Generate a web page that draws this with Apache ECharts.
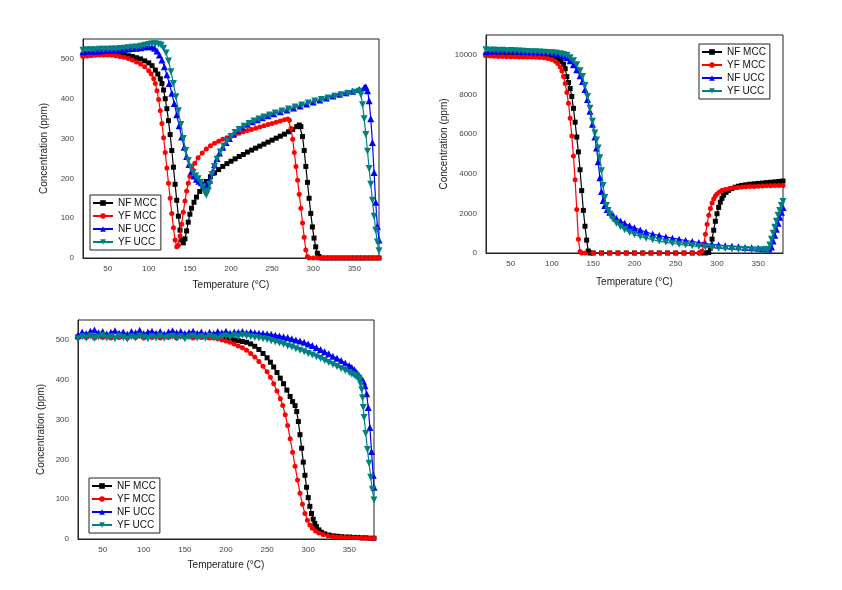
<!DOCTYPE html>
<html>
<head>
<meta charset="utf-8">
<script src="https://cdn.jsdelivr.net/npm/echarts@6/dist/echarts.min.js"></script>
<style>
html,body{margin:0;padding:0;background:#fff;}
#chart{width:842px;height:590px;}
</style>
</head>
<body>
<div id="chart"></div>
<script>
// ---------- data ----------
const seriesNames = ['NF MCC', 'YF MCC', 'NF UCC', 'YF UCC'];
const xTickLabels = [50, 100, 150, 200, 250, 300, 350];
const yTickLabelsA = [0, 100, 200, 300, 400, 500];
const yTickLabelsB = [0, 2000, 4000, 6000, 8000, 10000];

// Panel 1 (top-left)
const p1NfMcc = [[20,510],[25,511],[30,512],[35,512],[40,513],[45,513],[50,513],[55,513],[60,512],[65,511],[70,510],[75,508],[80,506],[85,503],[90,500],[95,495],[100,490],[104,483],[108,472],[111,462],[114,450],[116,438],[118,422],[120,400],[122,375],[124,345],[126,310],[128,270],[130,228],[132,185],[134,145],[136,105],[138,70],[140,45],[142,38],[144,48],[146,68],[148,90],[150,110],[152,125],[155,140],[158,153],[162,167],[166,180],[170,192],[175,204],[180,214],[185,222],[190,230],[195,237],[200,243],[205,249],[210,255],[215,260],[220,266],[225,271],[230,276],[235,281],[240,286],[245,291],[250,296],[255,301],[260,306],[265,311],[270,317],[275,323],[280,330],[283,334],[285,330],[287,305],[289,270],[291,230],[293,190],[295,150],[297,112],[299,78],[301,50],[303,28],[305,12],[307,4],[310,0],[315,0],[320,0],[325,0],[330,0],[335,0],[340,0],[345,0],[350,0],[355,0],[360,0],[365,0],[370,0],[375,0],[380,0]];
const p1YfMcc = [[20,506],[25,507],[30,508],[35,509],[40,510],[45,510],[50,510],[55,509],[60,508],[65,506],[70,504],[75,501],[80,497],[85,492],[90,487],[95,480],[100,470],[103,462],[106,450],[108,438],[110,420],[112,398],[114,370],[116,338],[118,302],[120,265],[122,226],[124,188],[126,150],[128,112],[130,76],[132,45],[134,28],[136,32],[138,55],[140,85],[142,115],[144,143],[146,168],[148,188],[150,205],[153,223],[156,238],[160,252],[165,264],[170,274],[175,282],[180,288],[185,293],[190,298],[195,302],[200,306],[205,310],[210,313],[215,317],[220,320],[225,323],[230,326],[235,329],[240,332],[245,335],[250,338],[255,341],[260,344],[265,347],[269,349],[271,346],[273,325],[275,298],[277,265],[279,230],[281,195],[283,160],[285,125],[287,88],[289,52],[291,20],[293,4],[295,0],[300,0],[305,0],[310,0],[315,0],[320,0],[325,0],[330,0],[335,0],[340,0],[345,0],[350,0],[355,0],[360,0],[365,0],[370,0],[375,0],[380,0]];
const p1NfUcc = [[20,518],[25,519],[30,519],[35,520],[40,520],[45,521],[50,521],[55,522],[60,522],[65,523],[70,524],[75,525],[80,526],[85,527],[90,528],[95,530],[100,531],[104,530],[107,527],[110,520],[113,510],[116,497],[119,480],[122,460],[125,438],[128,414],[131,388],[134,360],[137,332],[140,304],[143,278],[146,255],[149,235],[152,218],[155,206],[158,198],[161,193],[164,189],[167,185],[170,180],[172,182],[174,195],[177,215],[180,234],[183,250],[186,264],[190,278],[194,290],[198,300],[203,311],[208,320],[214,329],[220,336],[226,342],[232,347],[238,352],[245,357],[252,362],[260,367],[268,372],[276,377],[284,382],[292,387],[300,392],[308,397],[316,402],[324,407],[332,411],[340,415],[348,419],[356,423],[362,428],[364,430],[366,420],[368,395],[370,350],[372,290],[374,215],[376,140],[378,80],[380,45]];
const p1YfUcc = [[20,522],[25,523],[30,523],[35,523],[40,524],[45,524],[50,524],[55,525],[60,525],[65,526],[70,527],[75,528],[80,529],[85,530],[90,532],[95,534],[100,536],[104,538],[108,538],[112,537],[115,534],[118,527],[121,515],[124,495],[127,468],[130,438],[133,405],[136,370],[139,335],[142,300],[145,270],[148,245],[151,228],[154,215],[157,206],[160,199],[163,190],[166,178],[168,165],[170,158],[172,168],[174,185],[177,210],[180,230],[183,248],[187,266],[191,281],[195,293],[200,305],[205,315],[210,323],[216,331],[222,338],[228,344],[234,349],[240,354],[247,359],[254,364],[262,369],[270,374],[278,379],[286,384],[294,389],[302,394],[310,398],[318,402],[326,406],[334,410],[342,413],[350,416],[356,419],[358,410],[360,385],[362,350],[364,310],[366,268],[368,225],[370,185],[372,145],[374,105],[376,70],[378,40],[380,18]];

// Panel 2 (top-right)
const p2NfMcc = [[20,10000],[25,9990],[30,9980],[35,9975],[40,9970],[45,9965],[50,9960],[55,9960],[60,9955],[65,9955],[70,9950],[75,9950],[80,9945],[85,9940],[90,9935],[95,9920],[100,9880],[104,9830],[108,9760],[111,9660],[114,9520],[116,9300],[118,8900],[120,8600],[122,8300],[124,7900],[126,7300],[128,6600],[130,5850],[132,5100],[134,4200],[136,3150],[138,2150],[140,1350],[142,650],[144,100],[146,0],[150,0],[160,0],[170,0],[180,0],[190,0],[200,0],[210,0],[220,0],[230,0],[240,0],[250,0],[260,0],[270,0],[280,0],[286,0],[290,30],[292,250],[294,700],[296,1150],[298,1600],[300,1980],[302,2300],[304,2560],[306,2760],[308,2920],[311,3060],[314,3160],[318,3250],[322,3320],[326,3370],[330,3410],[335,3440],[340,3470],[345,3490],[350,3510],[355,3530],[360,3550],[365,3570],[370,3590],[375,3610],[380,3630]];
const p2YfMcc = [[20,9950],[25,9940],[30,9930],[35,9920],[40,9910],[45,9905],[50,9900],[55,9900],[60,9895],[65,9895],[70,9890],[75,9890],[80,9880],[85,9870],[90,9850],[95,9820],[100,9760],[104,9680],[107,9560],[110,9380],[112,9180],[114,8900],[116,8550],[118,8100],[120,7550],[122,6800],[124,5900],[126,4900],[128,3700],[130,2200],[132,700],[134,80],[136,0],[140,0],[150,0],[160,0],[170,0],[180,0],[190,0],[200,0],[210,0],[220,0],[230,0],[240,0],[250,0],[260,0],[270,0],[278,0],[280,20],[282,100],[284,450],[286,950],[288,1450],[290,1900],[292,2250],[294,2520],[296,2720],[298,2870],[300,2980],[303,3080],[306,3150],[310,3210],[315,3260],[320,3290],[325,3310],[330,3330],[335,3340],[340,3350],[345,3360],[350,3370],[355,3380],[360,3390],[365,3395],[370,3400],[375,3405],[380,3410]];
const p2NfUcc = [[20,10150],[25,10180],[30,10200],[35,10190],[40,10210],[45,10200],[50,10220],[55,10200],[60,10190],[65,10180],[70,10170],[75,10160],[80,10150],[85,10140],[90,10130],[95,10120],[100,10100],[105,10070],[110,10020],[114,9950],[118,9850],[122,9700],[126,9500],[130,9250],[134,8950],[137,8650],[140,8250],[143,7750],[146,7150],[149,6500],[152,5850],[154,5300],[156,4600],[158,3800],[160,3100],[162,2650],[164,2400],[167,2200],[170,2050],[174,1900],[178,1750],[183,1620],[188,1500],[194,1380],[200,1270],[207,1160],[214,1060],[222,960],[230,880],[238,810],[246,750],[254,690],[262,630],[270,580],[278,530],[286,480],[294,440],[302,400],[310,370],[318,340],[326,310],[334,280],[342,260],[350,240],[356,220],[360,210],[363,200],[366,300],[368,600],[370,900],[372,1200],[374,1500],[376,1800],[378,2050],[380,2300]];
const p2YfUcc = [[20,10250],[25,10230],[30,10240],[35,10220],[40,10230],[45,10210],[50,10220],[55,10200],[60,10190],[65,10180],[70,10170],[75,10160],[80,10150],[85,10140],[90,10130],[95,10120],[100,10110],[105,10090],[110,10060],[114,10020],[118,9960],[122,9850],[126,9700],[130,9500],[134,9200],[137,8900],[140,8450],[143,7900],[146,7300],[149,6650],[152,6050],[154,5700],[156,5300],[158,4800],[160,4150],[162,3400],[164,2800],[166,2400],[168,2150],[170,1950],[174,1700],[178,1500],[183,1320],[188,1170],[194,1040],[200,930],[207,830],[214,750],[222,670],[230,600],[238,540],[246,490],[254,440],[262,400],[270,360],[278,330],[286,300],[294,270],[302,245],[310,225],[318,205],[326,190],[334,175],[342,165],[350,155],[356,150],[360,150],[362,170],[364,400],[366,700],[368,1000],[370,1300],[372,1600],[374,1900],[376,2150],[378,2400],[380,2600]];

// Panel 3 (bottom-left)
const p3NfMcc = [[20,508],[30,509],[40,508],[50,509],[60,508],[70,509],[80,508],[90,509],[100,508],[110,509],[120,508],[130,509],[140,508],[150,509],[160,508],[170,508],[180,507],[190,506],[200,504],[205,502],[210,500],[215,498],[220,496],[225,494],[230,490],[235,484],[240,476],[245,466],[250,455],[254,444],[258,432],[262,418],[266,404],[270,390],[274,374],[278,358],[281,345],[284,335],[286,320],[288,295],[290,262],[292,228],[294,193],[296,160],[298,130],[300,104],[302,82],[304,64],[306,50],[308,39],[310,31],[313,23],[316,17],[320,13],[325,10],[330,8],[335,7],[340,6],[345,5],[350,5],[355,4],[360,4],[365,3],[370,3],[375,2],[380,2]];
const p3YfMcc = [[20,505],[30,506],[40,505],[50,506],[60,505],[70,506],[80,505],[90,506],[100,505],[110,506],[120,505],[130,506],[140,505],[150,506],[160,505],[170,506],[180,505],[185,505],[190,503],[195,500],[200,497],[205,494],[210,490],[215,485],[220,480],[225,474],[230,466],[235,457],[240,446],[245,434],[250,420],[254,406],[258,390],[262,372],[266,352],[269,335],[272,312],[275,285],[278,252],[281,218],[284,183],[287,148],[290,115],[293,87],[296,64],[299,47],[302,35],[305,27],[309,20],[313,15],[318,11],[324,8],[330,6],[335,5],[340,5],[345,4],[350,4],[355,3],[360,3],[365,2],[370,2],[375,2],[380,2]];
const p3NfUcc = [[20,512],[25,520],[30,516],[35,522],[40,525],[45,518],[50,521],[55,515],[60,519],[65,523],[70,517],[75,520],[80,514],[85,521],[90,518],[95,524],[100,516],[105,520],[110,522],[115,517],[120,521],[125,515],[130,520],[135,523],[140,518],[145,521],[150,516],[155,519],[160,522],[165,517],[170,520],[175,515],[180,519],[185,516],[190,521],[195,518],[200,522],[205,517],[210,520],[215,519],[220,521],[225,518],[230,520],[235,518],[240,517],[245,516],[250,515],[255,514],[260,512],[265,510],[270,508],[275,506],[280,503],[285,500],[290,497],[295,494],[300,490],[305,486],[310,481],[315,476],[320,470],[325,465],[330,459],[335,454],[340,448],[345,442],[350,436],[353,431],[356,425],[358,420],[360,415],[362,410],[364,405],[366,399],[367,396],[369,385],[371,365],[373,330],[375,280],[377,220],[379,160],[380,130]];
const p3YfUcc = [[20,503],[25,508],[30,505],[35,510],[40,504],[45,507],[50,511],[55,505],[60,508],[65,503],[70,509],[75,506],[80,502],[85,508],[90,505],[95,510],[100,506],[105,503],[110,508],[115,505],[120,510],[125,504],[130,507],[135,509],[140,505],[145,508],[150,503],[155,507],[160,510],[165,505],[170,508],[175,504],[180,509],[185,506],[190,503],[195,508],[200,510],[205,506],[210,511],[215,508],[220,512],[225,510],[230,508],[235,506],[240,505],[245,503],[250,501],[255,498],[260,495],[265,492],[270,489],[275,485],[280,482],[285,478],[290,474],[295,470],[300,466],[305,462],[310,458],[315,453],[320,448],[325,443],[330,438],[335,433],[340,428],[345,423],[350,418],[353,414],[356,411],[358,409],[360,406],[362,402],[363,398],[364,388],[365,375],[366,355],[367,330],[368,305],[370,265],[372,225],[374,190],[376,155],[378,125],[380,98]];

// ---------- styling ----------
const styles = [
  {color: '#000000', symbol: 'rect', size: 5, rotate: 0},
  {color: '#ff0000', symbol: 'circle', size: 5, rotate: 0},
  {color: '#0000ff', symbol: 'triangle', size: 7, rotate: 0},
  {color: '#008080', symbol: 'triangle', size: 7, rotate: 180}
];
const panels = [
  {data: [p1NfMcc, p1YfMcc, p1NfUcc, p1YfUcc], grid: {left: 83, top: 39, width: 296, height: 219}, yMax: 550, yInt: 50, yLabels: yTickLabelsA, yGap: 34, xGap: 22, legend: {left: 90, top: 195}},
  {data: [p2NfMcc, p2YfMcc, p2NfUcc, p2YfUcc], grid: {left: 486, top: 35, width: 297, height: 218}, yMax: 11000, yInt: 1000, yLabels: yTickLabelsB, yGap: 37, xGap: 24, legend: {left: 699, top: 44}},
  {data: [p3NfMcc, p3YfMcc, p3NfUcc, p3YfUcc], grid: {left: 78, top: 320, width: 296, height: 219}, yMax: 550, yInt: 50, yLabels: yTickLabelsA, yGap: 32, xGap: 21, legend: {left: 89, top: 478}}
];

const font = 'Liberation Sans, Arial, sans-serif';
const option = {
  backgroundColor: '#ffffff',
  animation: false,
  grid: [], xAxis: [], yAxis: [], series: [], legend: []
};

panels.forEach((p, i) => {
  option.grid.push(Object.assign({show: true, borderColor: '#222', borderWidth: 1, backgroundColor: 'transparent'}, p.grid));
  option.xAxis.push({
    type: 'value', gridIndex: i, min: 20, max: 380, interval: 10,
    name: 'Temperature (°C)', nameLocation: 'middle', nameGap: p.xGap,
    nameTextStyle: {fontFamily: font, fontSize: 10, color: '#222'},
    axisLine: {show: true, onZero: false, lineStyle: {color: '#222', width: 1}},
    axisTick: {show: false}, splitLine: {show: false},
    axisLabel: {margin: 7, fontFamily: font, fontSize: 8, color: '#444',
      formatter: v => xTickLabels.includes(v) ? String(v) : ''}
  });
  option.yAxis.push({
    type: 'value', gridIndex: i, min: 0, max: p.yMax, interval: p.yInt,
    name: 'Concentration (ppm)', nameLocation: 'middle', nameGap: p.yGap,
    nameTextStyle: {fontFamily: font, fontSize: 10, color: '#222'},
    axisLine: {show: true, lineStyle: {color: '#222', width: 1}},
    axisTick: {show: false}, splitLine: {show: false},
    axisLabel: {margin: 9, fontFamily: font, fontSize: 8, color: '#444',
      formatter: v => p.yLabels.includes(v) ? String(v) : ''}
  });
  p.data.forEach((d, k) => {
    const s = styles[k];
    option.series.push({
      type: 'line', name: seriesNames[k], xAxisIndex: i, yAxisIndex: i,
      data: d, symbol: s.symbol, symbolSize: s.size, symbolRotate: s.rotate,
      showSymbol: true, showAllSymbol: true,
      lineStyle: {color: s.color, width: 1.2},
      itemStyle: {color: s.color, borderWidth: 0},
      emphasis: {disabled: true}, z: 2 + k
    });
  });
  option.legend.push({
    orient: 'vertical', left: p.legend.left, top: p.legend.top,
    data: seriesNames.slice(),
    itemWidth: 20, itemHeight: 7, itemGap: 3,
    padding: [3, 4, 3, 2],
    borderColor: '#222', borderWidth: 1, backgroundColor: '#fff',
    selectedMode: false,
    textStyle: {fontFamily: font, fontSize: 10, color: '#111', lineHeight: 10}
  });
});

const chart = echarts.init(document.getElementById('chart'), null, {renderer: 'canvas'});
chart.setOption(option);
</script>
</body>
</html>
